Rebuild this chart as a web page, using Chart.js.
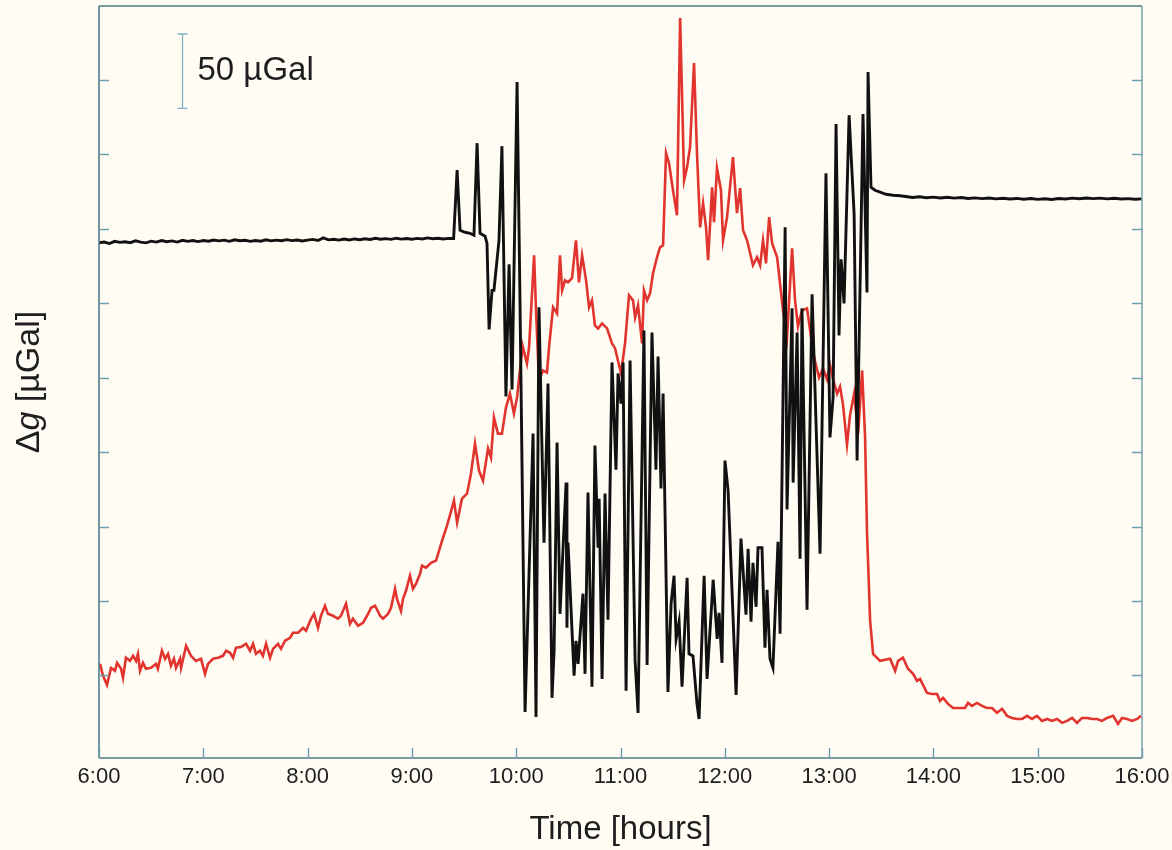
<!DOCTYPE html>
<html>
<head>
<meta charset="utf-8">
<script src="https://cdn.jsdelivr.net/npm/chart.js@4/dist/chart.umd.min.js"></script>
<style>
html,body{margin:0;padding:0;background:#fffdf3;}
canvas{display:block;}
</style>
</head>
<body>
<canvas id="c" width="1172" height="850"></canvas>
<script>
// x values: minutes after 6:00 ; y values: µGal (relative)
const hourLabels = ["6:00","7:00","8:00","9:00","10:00","11:00","12:00","13:00","14:00","15:00","16:00"];
const yTickValues = [50,100,150,200,250,300,350,400,450];
const scaleBarMinute = 47.7;
const scaleBarTop = 480.7;
const scaleBarSize = 50;
const scaleBarLabel = "50 µGal";
const xTitle = "Time [hours]";

const blackSeries = [
[0,340.5],[3,341],[6,340],[9,341.5],[12,340.8],[15,341.2],[18,340.6],[21,341.8],[24,341],[27,340.5],
[30,341.6],[33,341],[36,342],[39,341.2],[42,341.8],[45,341],[48,342.2],[51,341.5],[54,342],[57,341.3],
[60,342],[63,341.6],[66,342.4],[69,341.8],[72,342.3],[75,341.5],[78,342.5],[81,341.9],[84,342.2],[87,341.5],
[90,342],[93,341.6],[96,342.5],[99,341.8],[102,342.3],[105,341.9],[108,342.6],[111,342],[114,342.4],[117,341.7],
[120,342.3],[123,342.8],[126,342.1],[129,343.8],[132,342.5],[135,342.9],[138,342.3],[141,343],[144,342.4],[147,343.1],
[150,342.6],[153,343.2],[156,342.7],[159,343.5],[162,342.9],[165,343.3],[168,342.8],[171,343.6],[174,343],[177,343.4],
[180,342.9],[183,343.5],[186,343.1],[189,343.8],[192,343.2],[195,343.6],[198,343.1],[201,343.5],[204,343.4],
[206.0,389.3],[207.7,348.9],[210.6,347.6],[213.4,346.9],[215.7,345.6],[217.5,407.4],[219.2,346.9],[222.1,344.9],
[223.2,340.2],[224.4,282.4],[226.1,308.6],[227.2,308.6],[230.1,342.2],[231.8,405.4],[234.1,237.3],[235.9,326.1],
[237.6,242.0],[240.5,448.4],[242.2,299.8],[245.1,25.5],[249.7,212.4],[251.4,22.2],[253.1,297.2],[256.0,139.2],
[258.3,246.1],[260.6,35.0],[261.8,66.6],[263.5,206.4],[265.2,91.4],[268.7,179.5],[269.2,82.0],[269.8,139.2],
[273.3,49.8],[274.4,73.3],[275.6,57.8],[278.4,104.9],[279.6,51.1],[281.3,172.8],[283.6,42.4],[285.3,204.4],
[287.1,135.8],[287.7,168.7],[289.4,47.7],[291.1,172.1],[292.8,87.4],[295.1,260.2],[297.4,188.2],[298.6,252.8],
[300.3,232.6],[301.5,260.2],[303.2,39.7],[305.5,261.5],[308.4,59.8],[310.1,24.9],[313.5,281.7],[315.3,57.1],
[318.1,280.3],[320.4,188.2],[321.6,264.2],[323.3,175.5],[324.5,239.3],[327.3,39.0],[329.1,98.2],[330.8,117.0],
[332.0,74.6],[333.7,86.1],[335.4,42.4],[338.3,115.6],[339.4,64.5],[341.7,63.2],[344.0,30.9],[345.2,20.8],
[348.1,117.0],[349.8,47.7],[353.3,114.3],[355.6,74.6],[356.7,92.1],[358.4,58.5],[360.1,194.3],[361.9,174.1],
[366.5,37.0],[369.3,141.9],[372.2,90.8],[373.4,135.1],[375.1,86.1],[376.2,125.7],[378.0,96.1],[379.1,135.8],
[381.4,135.8],[383.1,68.6],[384.3,107.6],[386.0,61.2],[387.7,55.1],[390.6,139.8],[391.8,78.0],[394.7,350.9],
[395.8,161.4],[398.7,296.5],[399.3,179.5],[401.6,280.3],[403.3,128.4],[404.4,296.5],[407.3,94.1],[410.2,305.9],
[414.8,131.8],[418.2,387.2],[420.5,209.8],[422.3,236.7],[424.0,420.2],[425.7,278.3],[426.9,329.4],[428.6,299.8],
[431.5,426.2],[434.4,359.7],[436.1,194.3],[439.5,426.9],[441.8,307.2],[442.4,455.1],[444.1,377.8],[446.4,375.8],
[449.3,374.5],[452.8,373.1],[456.8,372.4],[460.8,372.1],
[464,371.6],[468,370.9],[472,371.4],[476,370.8],[480,371.2],[484,370.6],[488,371.1],[492,370.5],[496,370.9],[500,370.3],
[504,370.7],[508,370.2],[512,370.6],[516,370.0],[520,370.4],[524,369.9],[528,370.3],[532,369.8],[536,370.2],[540,369.7],
[544,370.1],[548,369.6],[552,370.2],[556,369.9],[560,370.5],[564,370.1],[568,370.6],[572,370.2],[576,370.5],[580,370.0],
[584,370.4],[588,369.9],[592,370.2],[596,369.8],[600,370.0]
];

const redSeries = [
[0.6,57.8],[2.3,49.8],[4.6,43.7],[6.9,55.1],[9.2,53.1],[10.4,58.5],[12.7,54.5],[13.8,48.4],[15.5,61.9],[17.8,59.8],
[19.6,63.2],[21.3,59.8],[22.4,64.5],[23.6,53.1],[25.3,58.5],[27.0,54.5],[29.9,55.1],[32.8,57.8],[33.9,54.5],[36.2,66.6],
[38.0,61.2],[39.7,64.5],[41.4,56.5],[43.1,61.2],[44.3,55.1],[46.6,61.2],[47.2,55.1],[50.1,69.9],[52.9,63.2],[55.8,59.8],
[58.7,61.2],[61.0,51.1],[62.7,57.8],[65.6,61.2],[68.5,61.9],[71.3,63.2],[73.1,66.6],[75.4,65.2],[77.1,61.9],[78.8,68.6],
[81.7,69.2],[84.6,71.3],[86.9,66.6],[88.6,71.3],[90.3,64.5],[92.6,66.6],[94.3,63.2],[96.1,71.3],[98.4,61.9],[100.1,67.9],
[103.0,71.3],[104.7,67.9],[107.0,73.3],[109.9,75.3],[111.6,78.7],[114.5,78.7],[117.4,82.0],[119.1,80.0],[122.0,88.1],[123.7,91.4],
[126.0,82.0],[127.7,90.1],[130.0,96.8],[131.7,91.4],[134.6,90.1],[137.5,88.1],[139.2,90.1],[142.1,98.2],[144.4,84.7],[146.1,88.1],
[149.0,83.4],[151.9,85.4],[154.8,91.4],[156.5,95.5],[158.8,96.8],[161.7,90.1],[163.4,88.1],[166.3,91.4],[168.0,95.5],[170.3,108.2],
[171.4,101.5],[173.7,93.4],[174.9,101.5],[176.6,106.9],[178.9,117.0],[180.6,108.2],[182.4,111.6],[184.7,118.3],[185.8,123.7],[188.1,122.4],
[191.0,125.7],[193.9,127.1],[197.9,142.5],[200.2,150.6],[203.1,162.7],[204.2,167.4],[206.0,152.6],[208.8,168.7],[211.7,172.1],[214.0,185.6],
[216.3,205.7],[218.6,187.6],[220.9,180.8],[223.8,202.4],[225.5,196.3],[227.2,223.2],[229.5,212.4],[231.8,212.4],[234.1,229.9],[236.4,239.3],
[238.7,225.9],[240.5,236.7],[243.4,268.2],[243.9,270.3],[246.2,259.5],[247.4,270.3],[250.3,332.1],[251.4,295.1],[253.1,248.1],[255.4,254.8],
[257.7,253.5],[258.9,270.3],[261.2,297.2],[263.5,293.1],[265.2,332.1],[266.4,308.6],[268.1,315.3],[269.8,314.0],[272.1,316.7],[274.4,342.2],
[276.1,314.0],[277.9,332.1],[280.2,315.3],[281.9,297.2],[283.6,301.9],[285.3,285.1],[287.1,283.0],[289.4,286.4],[292.3,283.0],[295.1,273.0],
[296.9,269.6],[300.3,252.8],[302.6,273.0],[304.9,305.2],[307.2,301.9],[308.4,290.4],[310.1,298.5],[312.4,273.0],[313.5,308.6],[315.3,301.9],
[317.0,306.6],[318.7,320.0],[321.0,330.8],[322.7,337.5],[324.5,338.8],[326.2,400.7],[327.9,394.0],[330.2,375.8],[332.5,359.0],[334.3,491.4],
[336.6,382.5],[338.3,391.3],[340.0,404.7],[342.3,461.2],[344.0,400.7],[345.8,350.9],[347.5,367.1],[349.2,350.9],[350.4,328.8],[352.7,377.8],
[353.8,354.3],[355.5,390.6],[357.8,375.8],[359.0,342.2],[361.3,357.7],[364.7,398.0],[367.0,360.4],[368.8,377.2],[370.5,348.9],[372.8,342.2],
[375.1,330.8],[376.2,325.4],[378.5,330.8],[380.3,325.4],[382.0,342.2],[383.7,326.7],[385.5,357.7],[387.2,340.2],[390.1,330.8],[393.5,295.1],
[395.8,277.0],[398.7,336.8],[400.4,301.9],[402.1,284.4],[404.4,295.1],[407.3,296.5],[410.2,272.3],[411.9,260.9],[414.2,250.1],[416.5,256.1],
[418.8,248.8],[420.5,258.8],[422.3,248.8],[424.6,239.3],[426.3,244.0],[428.0,231.9],[430.3,205.1],[432.0,224.5],[434.4,239.3],[436.7,212.4],
[439.0,254.8],[440.7,209.8],[441.8,146.6],[443.6,86.7],[445.3,64.5],[449.3,59.8],[455.1,61.2],[458.0,53.1],[459.7,59.8],[462.5,61.9],
[465.4,54.5],[468.3,51.1],[470.6,46.4],[472.3,47.7],[476.3,38.3],[479.2,37.6],[482.1,37.6],[483.8,32.9],[485.6,35.0],[488.4,30.9],
[491.3,28.2],[495.3,28.2],[498.2,28.2],[499.9,31.6],[502.2,29.6],[505.1,31.6],[508.0,29.6],[510.9,28.2],[513.7,28.2],[516.6,24.9],
[519.5,27.6],[522.4,22.9],[525.2,21.5],[528.1,20.8],[531.0,20.8],[533.9,22.9],[536.7,20.8],[539.6,22.9],[542.5,19.5],[545.4,20.8],
[548.3,19.5],[551.1,20.8],[554.0,18.2],[556.9,19.5],[559.8,21.5],[562.6,18.2],[565.5,21.5],[568.4,21.5],[571.3,20.8],[574.2,20.8],
[577.0,19.5],[579.9,21.5],[583.4,22.9],[586.2,17.5],[588.5,21.5],[591.4,20.8],[594.3,19.5],[597.2,20.8],[599.4,22.9]
];

const bgColor = '#fffdf3';
const frameColor = '#4f7b8b';
const tickColor = '#6b9eae';
const barColor = '#7fb0c4';
const textColor = '#1e1e1e';
const fontFamily = "'Liberation Sans', Arial, Helvetica, sans-serif";

const decor = {
  id: 'decor',
  beforeDraw(chart) {
    const ctx = chart.ctx;
    ctx.save();
    ctx.fillStyle = bgColor;
    ctx.fillRect(0, 0, chart.width, chart.height);
    ctx.restore();
  },
  afterDatasetsDraw(chart) {
    const ctx = chart.ctx;
    const a = chart.chartArea;
    const xs = chart.scales.x, ys = chart.scales.y;
    ctx.save();
    // frame
    ctx.lineWidth = 1.6;
    ctx.strokeStyle = frameColor;
    ctx.beginPath();
    ctx.moveTo(a.left, a.top); ctx.lineTo(a.right, a.top);
    ctx.moveTo(a.left, a.top); ctx.lineTo(a.left, a.bottom);
    ctx.moveTo(a.left, a.bottom); ctx.lineTo(a.right, a.bottom);
    ctx.stroke();
    ctx.strokeStyle = '#7fa6b4';
    ctx.beginPath();
    ctx.moveTo(a.right, a.top); ctx.lineTo(a.right, a.bottom);
    ctx.stroke();
    // inward ticks
    ctx.strokeStyle = tickColor;
    ctx.lineWidth = 1.4;
    ctx.beginPath();
    yTickValues.forEach(v => {
      const py = Math.round(ys.getPixelForValue(v)) + 0.5;
      ctx.moveTo(a.left, py); ctx.lineTo(a.left + 10, py);
      ctx.moveTo(a.right, py); ctx.lineTo(a.right - 10, py);
    });
    xs.ticks.forEach(t => {
      const px = Math.round(xs.getPixelForValue(t.value)) + 0.5;
      ctx.moveTo(px, a.bottom); ctx.lineTo(px, a.bottom - 10);
    });
    ctx.stroke();
    // scale bar
    const bx = Math.round(xs.getPixelForValue(scaleBarMinute)) + 0.5;
    const bt = ys.getPixelForValue(scaleBarTop);
    const bb = ys.getPixelForValue(scaleBarTop - scaleBarSize);
    ctx.strokeStyle = barColor;
    ctx.lineWidth = 1.3;
    ctx.beginPath();
    ctx.moveTo(bx, bt); ctx.lineTo(bx, bb);
    ctx.moveTo(bx - 5, bt); ctx.lineTo(bx + 5, bt);
    ctx.moveTo(bx - 5, bb); ctx.lineTo(bx + 5, bb);
    ctx.stroke();
    ctx.fillStyle = textColor;
    ctx.font = '33px ' + fontFamily;
    ctx.textBaseline = 'middle';
    ctx.textAlign = 'left';
    ctx.fillText(scaleBarLabel, bx + 15, (bt + bb) / 2);
    // y title with italic g
    ctx.translate(39, (a.top + a.bottom) / 2);
    ctx.rotate(-Math.PI / 2);
    ctx.textBaseline = 'alphabetic';
    const parts = [['Δ', ''], ['g', 'italic '], [' [µGal]', '']];
    const fs = '34px ';
    let total = 0;
    parts.forEach(p => { ctx.font = p[1] + fs + fontFamily; total += ctx.measureText(p[0]).width; });
    let x0 = -total / 2;
    parts.forEach(p => { ctx.font = p[1] + fs + fontFamily; ctx.fillText(p[0], x0, 0); x0 += ctx.measureText(p[0]).width; });
    ctx.restore();
  }
};

const toPoints = s => s.map(p => ({x: p[0], y: p[1]}));

new Chart(document.getElementById('c').getContext('2d'), {
  type: 'line',
  data: {
    datasets: [
      { label: 'black', data: toPoints(blackSeries), borderColor: '#111111', borderWidth: 2.9, pointRadius: 0, tension: 0, fill: false },
      { label: 'red', data: toPoints(redSeries), borderColor: '#e1342e', borderWidth: 2.6, pointRadius: 0, tension: 0, fill: false }
    ]
  },
  options: {
    responsive: false,
    animation: false,
    events: [],
    layout: { padding: { left: 99, right: 30, top: 6, bottom: 0 } },
    plugins: { legend: { display: false }, tooltip: { enabled: false } },
    scales: {
      x: {
        type: 'linear', min: 0, max: 600,
        grid: { display: false, drawTicks: false },
        border: { display: false },
        afterFit: s => { s.paddingLeft = 0; s.paddingRight = 0; },
        ticks: {
          stepSize: 60, autoSkip: false, maxRotation: 0, padding: 6,
          color: textColor, font: { size: 22, family: fontFamily },
          callback: v => hourLabels[Math.round(v / 60)]
        },
        title: { display: true, text: xTitle, color: textColor, font: { size: 33, family: fontFamily }, padding: { top: 14, bottom: 0 } }
      },
      y: { display: false, min: -5.4, max: 499.5 }
    }
  },
  plugins: [decor]
});
</script>
</body>
</html>
